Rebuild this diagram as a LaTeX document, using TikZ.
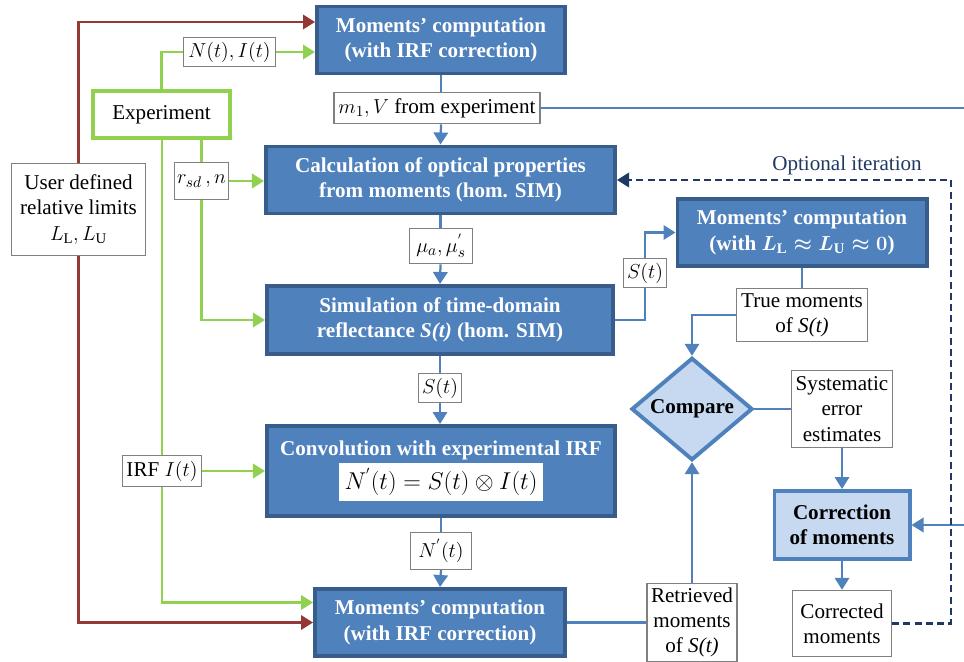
\documentclass[tikz,border=0pt]{standalone}
\usepackage{amsmath}
\usepackage{amssymb}
\usepackage{fontspec}
\setmainfont{Liberation Serif}
\usepackage{tikz}
\usetikzlibrary{shapes.geometric , arrows.meta}

\definecolor{boxfill}{RGB}{79,129,189}
\definecolor{boxedge}{RGB}{56,93,138}
\definecolor{lightfill}{RGB}{198,217,241}
\definecolor{expgreen}{RGB}{146,208,80}
\definecolor{limitred}{RGB}{149,55,53}
\definecolor{loopnavy}{RGB}{31,56,100}
\definecolor{taggray}{RGB}{128,128,128}

\tikzset{
    mainbox/.style = {draw = boxedge , fill = boxfill , line width = 2.8pt , text = white , font = \bfseries , align = center , inner sep = 0pt},
    lightbox/.style = {draw = boxfill , fill = lightfill , line width = 2.8pt , font = \bfseries , align = center , inner sep = 0pt},
    tag/.style = {draw = taggray , fill = white , line width = 1pt , align = center , inner sep = 1pt},
    tip/.style = {-{Triangle[length = 0.3cm , width = 0.36cm]}},
    greenline/.style = {draw = expgreen , line width = 1.6pt},
    redline/.style = {draw = limitred , line width = 1.6pt},
    blueline/.style = {draw = boxfill , line width = 1.6pt},
    dashline/.style = {draw = loopnavy , line width = 1.6pt , dash pattern = on 5pt off 3pt}
}

\begin{document}
\fontsize{15}{18}\selectfont
\begin{tikzpicture}[x = 0.025cm , y = -0.025cm]
    \useasboundingbox (0,0) rectangle (964,662);

    % main column
    \node[mainbox , minimum width = 6.2cm , minimum height = 1.675cm] (momtop) at (441, 40) {Moments' computation\\(with IRF correction)};
    \node[mainbox , minimum width = 8.725cm , minimum height = 1.675cm] (calc) at (440.5, 180) {Calculation of optical properties\\from moments (hom. SIM)};
    \node[mainbox , minimum width = 8.65cm , minimum height = 1.7cm] (sim) at (440, 320) {Simulation of time-domain\\reflectance \textit{S(t)} (hom. SIM)};
    \node[mainbox , minimum width = 8.7cm , minimum height = 2.25cm] (conv) at (441, 471) {Convolution with experimental IRF\\[1pt]{\setlength{\fboxsep}{4pt}\colorbox{white}{\color{black}\fontsize{17}{19}\selectfont$N^{'}(t) = S(t) \otimes I(t)$}}};
    \node[mainbox , minimum width = 6.25cm , minimum height = 1.675cm] (mombot) at (440, 622.5) {Moments' computation\\(with IRF correction)};

    % right column
    \node[mainbox , minimum width = 6.225cm , minimum height = 1.675cm] (momright) at (802, 232.5) {Moments' computation\\(with $\boldsymbol{L_{\mathrm{L}} \approx L_{\mathrm{U}} \approx 0}$)};
    \node[lightbox , shape = diamond , minimum width = 3.025cm , minimum height = 2.4cm] (cmp) at (692, 409) {Compare};
    \node[lightbox , minimum width = 3.375cm , minimum height = 1.7cm] (corr) at (842, 525) {Correction\\of moments};

    % inputs and labels
    \node[draw = expgreen , fill = white , line width = 2.8pt , minimum width = 3.425cm , minimum height = 1.175cm] (exper) at (161.5, 114.5) {Experiment};
    \node[tag , minimum width = 3.35cm , minimum height = 2.3cm] (user) at (78.5, 209.5) {User defined\\relative limits\\$L_{\mathrm{L}}, L_{\mathrm{U}}$};
    \node[tag , minimum width = 2.3cm , minimum height = 0.72cm] (NI) at (229.5, 52) {$N(t), I(t)$};
    \node[tag , minimum width = 5.15cm , minimum height = 0.78cm] (mV) at (437, 108) {$m_1, V$ from experiment};
    \node[tag , minimum width = 1.35cm , minimum height = 0.93cm] (rsd) at (201.5, 181) {$r_{sd}\,, n$};
    \node[tag , minimum width = 1.57cm , minimum height = 0.88cm] (mu) at (441, 246) {$\mu_a, \mu_s^{'}$};
    \node[tag , minimum width = 1.07cm , minimum height = 0.72cm] (Sright) at (645, 273) {$S(t)$};
    \node[tag , minimum width = 3.27cm , minimum height = 1.32cm] (true) at (802, 315) {True moments\\of \textit{S(t)}};
    \node[tag , minimum width = 1.07cm , minimum height = 0.72cm] (Smid) at (440, 388) {$S(t)$};
    \node[tag , minimum width = 2.52cm , minimum height = 1.92cm] (syst) at (842, 409) {Systematic\\error\\estimates};
    \node[tag , minimum width = 1.97cm , minimum height = 0.78cm] (IRF) at (162, 471) {IRF $I(t)$};
    \node[tag , minimum width = 1.52cm , minimum height = 0.92cm] (Nprime) at (441, 551) {$N^{'}(t)$};
    \node[tag , minimum width = 2.25cm , minimum height = 1.95cm] (retr) at (692, 622.5) {Retrieved\\moments\\of \textit{S(t)}};
    \node[tag , minimum width = 2.47cm , minimum height = 1.65cm] (corrd) at (842, 623.5) {Corrected\\moments};
    \node[text = loopnavy] (opt) at (847, 165) {Optional iteration};

    \coordinate (edgetop) at (964, 108);
    \coordinate (edgebot) at (964, 525);
    \coordinate (loopcorner) at (951, 180);

    % user limits
    \draw[redline , tip] (user.north) |- ([yshift = 0.45cm]momtop.west);
    \draw[redline , tip] (user.south) |- (mombot.west);

    % experiment
    \draw[greenline] (exper.north) |- (NI.west);
    \draw[greenline , tip] (NI.east) -- (NI.east -| momtop.west);
    \draw[greenline] (IRF.north |- exper.south) -- (IRF.north);
    \draw[greenline , tip] (IRF.east) -- (IRF.east -| conv.west);
    \draw[greenline , tip] (IRF.south) |- ([yshift = 0.5cm]mombot.west);
    \draw[greenline] (rsd.north |- exper.south) -- (rsd.north);
    \draw[greenline , tip] (rsd.east) -- (rsd.east -| calc.west);
    \draw[greenline , tip] (rsd.south) |- (sim.west);

    % main flow
    \draw[blueline] (momtop.south) -- (momtop.south |- mV.north);
    \draw[blueline , tip] (momtop.south |- mV.south) -- (calc.north);
    \draw[blueline] (mV.east) -- (edgetop);
    \draw[blueline] (calc.south) -- (calc.south |- mu.north);
    \draw[blueline , tip] (calc.south |- mu.south) -- (sim.north);
    \draw[blueline] (sim.south) -- (Smid.north);
    \draw[blueline , tip] (Smid.south) -- (Smid.south |- conv.north);
    \draw[blueline] (conv.south) -- (conv.south |- Nprime.north);
    \draw[blueline , tip] (conv.south |- Nprime.south) -- (mombot.north);

    % comparison
    \draw[blueline] (sim.east) -| (Sright.south);
    \draw[blueline , tip] (Sright.north) |- (momright.west);
    \draw[blueline] (momright.south) -- (true.north);
    \draw[blueline , tip] (true.west) -| (cmp.north);
    \draw[blueline] (mombot.east) -- (retr.west);
    \draw[blueline , tip] (retr.north) -- (cmp.south);
    \draw[blueline] (cmp.east) -- (syst.west);
    \draw[blueline , tip] (syst.south) -- (corr.north);
    \draw[blueline , tip] (corr.south) -- (corrd.north);
    \draw[blueline , tip] (edgebot) -- (corr.east);
    \draw[dashline , tip] (corrd.east) -| (loopcorner) -- (calc.east);
\end{tikzpicture}
\end{document}
